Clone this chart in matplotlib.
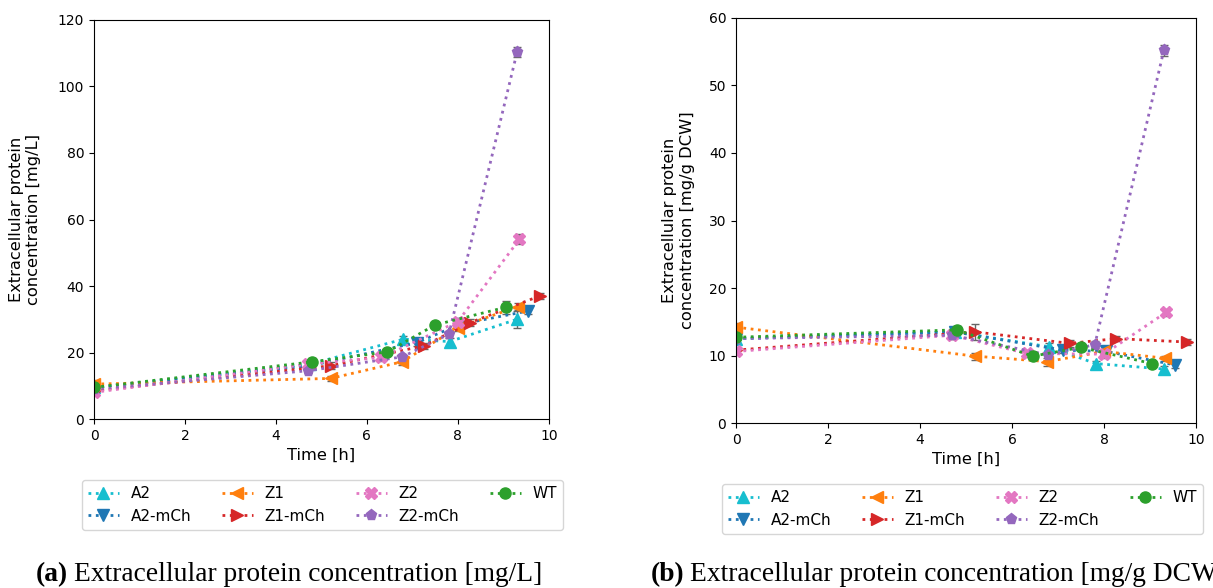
import matplotlib
matplotlib.use("Agg")
import matplotlib.pyplot as plt
from matplotlib.lines import Line2D

# Strain names, styles chosen per strain
strains = ["A2", "A2-mCh", "Z1", "Z1-mCh", "Z2", "Z2-mCh", "WT"]
colors = ["tab:cyan", "tab:blue", "tab:orange", "tab:red", "tab:pink", "tab:purple", "tab:green"]
markers = ["^", "v", "<", ">", "X", "p", "o"]

# Sampling times [h] per strain
t_A2 = [0.0, 4.75, 6.80, 7.82, 9.30]
t_A2m = [0.0, 4.75, 7.10, 8.05, 9.55]
t_Z1 = [0.0, 5.20, 6.77, 8.00, 9.32]
t_Z1m = [0.0, 5.20, 7.25, 8.27, 9.80]
t_Z2 = [0.0, 4.70, 6.32, 8.00, 9.35]
t_Z2m = [0.0, 4.70, 6.78, 7.80, 9.30]
t_WT = [0.0, 4.80, 6.45, 7.50, 9.05]

# Extracellular protein [mg/L]
c_A2 = [9.5, 16.5, 24.0, 23.3, 30.0]
c_A2m = [9.5, 16.0, 23.0, 28.5, 32.5]
c_Z1 = [10.5, 12.2, 17.2, 27.5, 33.8]
c_Z1m = [8.5, 16.0, 22.0, 29.0, 37.0]
c_Z2 = [8.0, 16.5, 18.5, 29.3, 54.0]
c_Z2m = [9.0, 14.5, 18.7, 25.5, 110.3]
c_WT = [9.5, 17.2, 20.2, 28.3, 33.6]
e_A2 = [0.8, 0.8, 1.0, 1.0, 2.5]
e_A2m = [0.8, 0.8, 1.0, 1.0, 1.0]
e_Z1 = [1.2, 0.8, 1.0, 1.0, 1.0]
e_Z1m = [0.8, 1.0, 1.0, 1.0, 0.8]
e_Z2 = [0.8, 0.8, 1.0, 1.0, 1.5]
e_Z2m = [0.8, 0.8, 1.0, 1.0, 1.5]
e_WT = [0.8, 1.0, 1.0, 0.8, 2.0]

# Extracellular protein [mg/g DCW]
s_A2 = [12.5, 13.5, 11.3, 8.8, 8.0]
s_A2m = [12.5, 13.5, 10.8, 10.6, 8.6]
s_Z1 = [14.2, 9.9, 9.1, 10.6, 9.6]
s_Z1m = [10.8, 13.5, 11.8, 12.5, 12.0]
s_Z2 = [10.6, 13.0, 10.3, 10.2, 16.4]
s_Z2m = [12.5, 13.0, 10.1, 11.6, 55.2]
s_WT = [12.7, 13.8, 9.9, 11.2, 8.8]
f_A2 = [0.4, 0.4, 0.6, 0.4, 0.4]
f_A2m = [0.4, 0.4, 0.5, 0.4, 0.4]
f_Z1 = [0.6, 0.5, 0.6, 0.4, 0.4]
f_Z1m = [0.4, 1.2, 0.5, 0.4, 0.4]
f_Z2 = [0.4, 0.5, 0.5, 0.5, 0.5]
f_Z2m = [0.4, 0.5, 0.5, 0.5, 0.8]
f_WT = [0.5, 0.6, 0.5, 0.4, 0.4]

times = [t_A2, t_A2m, t_Z1, t_Z1m, t_Z2, t_Z2m, t_WT]
conc_L = [c_A2, c_A2m, c_Z1, c_Z1m, c_Z2, c_Z2m, c_WT]
err_L = [e_A2, e_A2m, e_Z1, e_Z1m, e_Z2, e_Z2m, e_WT]
conc_D = [s_A2, s_A2m, s_Z1, s_Z1m, s_Z2, s_Z2m, s_WT]
err_D = [f_A2, f_A2m, f_Z1, f_Z1m, f_Z2, f_Z2m, f_WT]

fig = plt.figure(figsize=(12.13, 5.88), dpi=100)
ax1 = fig.add_axes([0.0775, 0.2874, 0.375, 0.6786])
ax2 = fig.add_axes([0.6068, 0.2806, 0.3792, 0.6888])


def draw(ax, values, errors, ymax, ylabel, pad, legend_box):
    handles = []
    for name, c, m, t, v, e in zip(strains, colors, markers, times, values, errors):
        ax.errorbar(t, v, yerr=e, color=c, marker=m, ls=":", lw=2, ms=8,
                    ecolor="0.4", elinewidth=1, capsize=3)
        handles.append(Line2D([], [], color=c, marker=m, ls=":", lw=2, ms=8,
                              label=name))
    ax.set_xlim(0, 10)
    ax.set_ylim(0, ymax)
    ax.set_xlabel("Time [h]", fontsize=11.7)
    ax.set_ylabel(ylabel, fontsize=11.7, labelpad=pad)
    ax.legend(handles=handles, ncol=4, loc="upper left",
              bbox_to_anchor=legend_box, bbox_transform=fig.transFigure,
              fontsize=11, columnspacing=2.0, borderaxespad=0, frameon=True)


draw(ax1, conc_L, err_L, 120, "Extracellular protein\nconcentration [mg/L]", 12,
     (82 / 1213, 1 - 480 / 588))
draw(ax2, conc_D, err_D, 60, "Extracellular protein\nconcentration [mg/g DCW]", 10,
     (722 / 1213, 1 - 484 / 588))


def caption(x, label, text):
    t1 = fig.text(x, 1 - 581 / 588, label, fontsize=19.8, fontweight="bold",
                  family="Liberation Serif", va="baseline")
    ax1.annotate(text, xy=(1, 0), xycoords=t1, xytext=(4, 0),
                 textcoords="offset points", fontsize=19.8,
                 family="Liberation Serif", va="bottom",
                 annotation_clip=False)


caption(36 / 1213, "(a)", "Extracellular protein concentration [mg/L]")
caption(651 / 1213, "(b)", "Extracellular protein concentration [mg/g DCW]")

fig.savefig("out.png", dpi=100)
